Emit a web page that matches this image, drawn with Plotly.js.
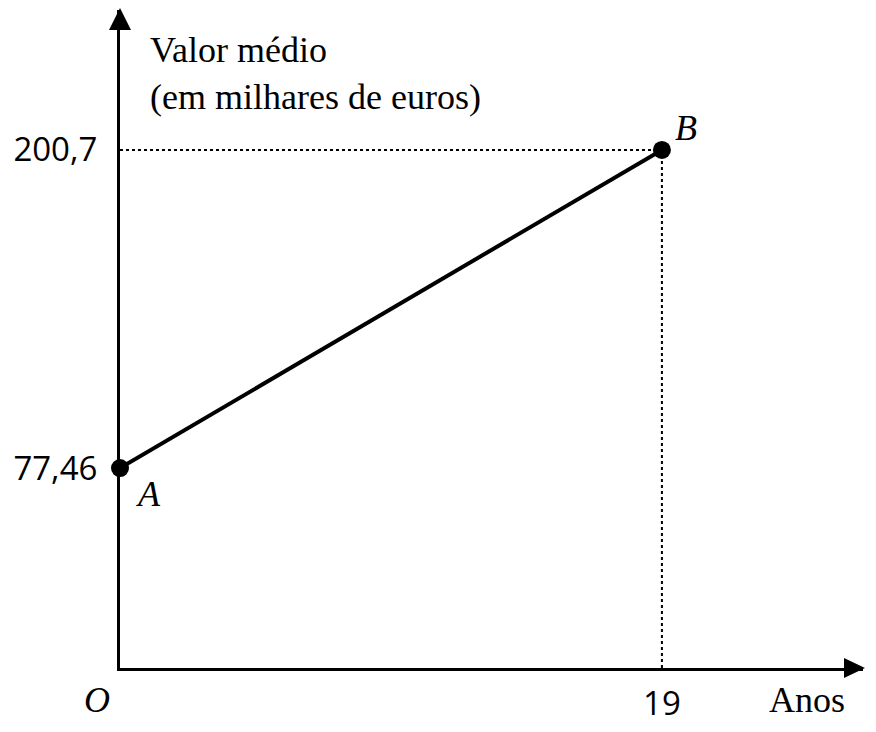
<!DOCTYPE html>
<html>
<head>
<meta charset="utf-8">
<script src="https://cdn.plot.ly/plotly-3.0.1.min.js"></script>
<style>
  html, body { margin: 0; padding: 0; background: #fff; }
  #chart { width: 876px; height: 732px; }
</style>
</head>
<body>
<div id="chart"></div>
<script>
// points A and B of the segment
const pointNames = ['A', 'B'];
const years      = [0, 19];
const values     = [77.46, 200.7];
const yTickVals  = [77.46, 200.7];
const yTickText  = ['77,46', '200,7'];
const xTickVals  = [19];
const xTickText  = ['19'];

const X_MAX = 26.05;
const Y_MAX = 254.9;

const SERIF = '"Liberation Serif", "DejaVu Serif", serif';
const SANS  = '"Open Sans", "DejaVu Sans", sans-serif';

const xB = years[1], yB = values[1];

const traces = [
  // dotted guides to B
  {
    x: [0, xB], y: [yB, yB], mode: 'lines',
    line: { color: '#000', width: 2, dash: '3px,3px' },
    hoverinfo: 'skip', showlegend: false,
  },
  {
    x: [xB, xB], y: [0, yB], mode: 'lines',
    line: { color: '#000', width: 2, dash: '3px,3px' },
    hoverinfo: 'skip', showlegend: false,
  },
  // segment AB
  {
    x: years, y: values, mode: 'lines+markers',
    line: { color: '#000', width: 4 },
    marker: { color: '#000', size: 18 },
    cliponaxis: false, showlegend: false,
  },
];

const annotations = [
  { x: years[0], y: values[0], text: pointNames[0], xanchor: 'left', yanchor: 'top', xshift: 14, yshift: -4 },
  { x: years[1], y: values[1], text: pointNames[1], xanchor: 'left', yanchor: 'bottom', xshift: 11, yshift: 0 },
  { x: 0, y: 0, text: 'O', xanchor: 'right', yanchor: 'top', xshift: -8, yshift: -10 },
  { x: X_MAX, y: 0, text: 'Anos', xanchor: 'right', yanchor: 'top', xshift: -16, yshift: -10, italic: false },
  { x: 0, y: Y_MAX, text: 'Valor médio<br>(em milhares de euros)', xanchor: 'left', yanchor: 'top',
    align: 'left', xshift: 28, yshift: -18, italic: false },
].map(a => ({
  xref: 'x', yref: 'y', showarrow: false, align: a.align || 'left',
  x: a.x, y: a.y, text: a.italic === false ? a.text : '<i>' + a.text + '</i>',
  xanchor: a.xanchor, yanchor: a.yanchor, xshift: a.xshift, yshift: a.yshift,
  font: { family: SERIF, size: 36, color: '#000' },
}));

// arrow heads on the axes (paper refs so they are not clipped)
const shapes = [
  {
    type: 'path', xref: 'paper', yref: 'paper', xsizemode: 'pixel', ysizemode: 'pixel',
    xanchor: 1, yanchor: 0, path: 'M2,0 L-19,-10 L-19,10 Z',
    fillcolor: '#000', line: { width: 0 },
  },
  {
    type: 'path', xref: 'paper', yref: 'paper', xsizemode: 'pixel', ysizemode: 'pixel',
    xanchor: 0, yanchor: 1, path: 'M0,2 L-11,-20 L11,-20 Z',
    fillcolor: '#000', line: { width: 0 },
  },
];

const layout = {
  width: 876, height: 732,
  margin: { l: 120, r: 13, t: 10, b: 64 },
  paper_bgcolor: '#fff', plot_bgcolor: '#fff',
  showlegend: false,
  xaxis: {
    range: [0, X_MAX], showgrid: false, zeroline: false,
    showline: true, linecolor: '#000', linewidth: 3,
    tickvals: xTickVals, ticktext: xTickText, ticks: '',
    ticklabelstandoff: 4,
    tickfont: { family: SANS, size: 33, color: '#000' },
  },
  yaxis: {
    range: [0, Y_MAX], showgrid: false, zeroline: false,
    showline: true, linecolor: '#000', linewidth: 3,
    tickvals: yTickVals, ticktext: yTickText, ticks: '',
    ticklabelstandoff: 13,
    tickfont: { family: SANS, size: 33, color: '#000' },
  },
  annotations: annotations,
  shapes: shapes,
};

Plotly.newPlot('chart', traces, layout, { displayModeBar: false, staticPlot: true });
</script>
</body>
</html>
